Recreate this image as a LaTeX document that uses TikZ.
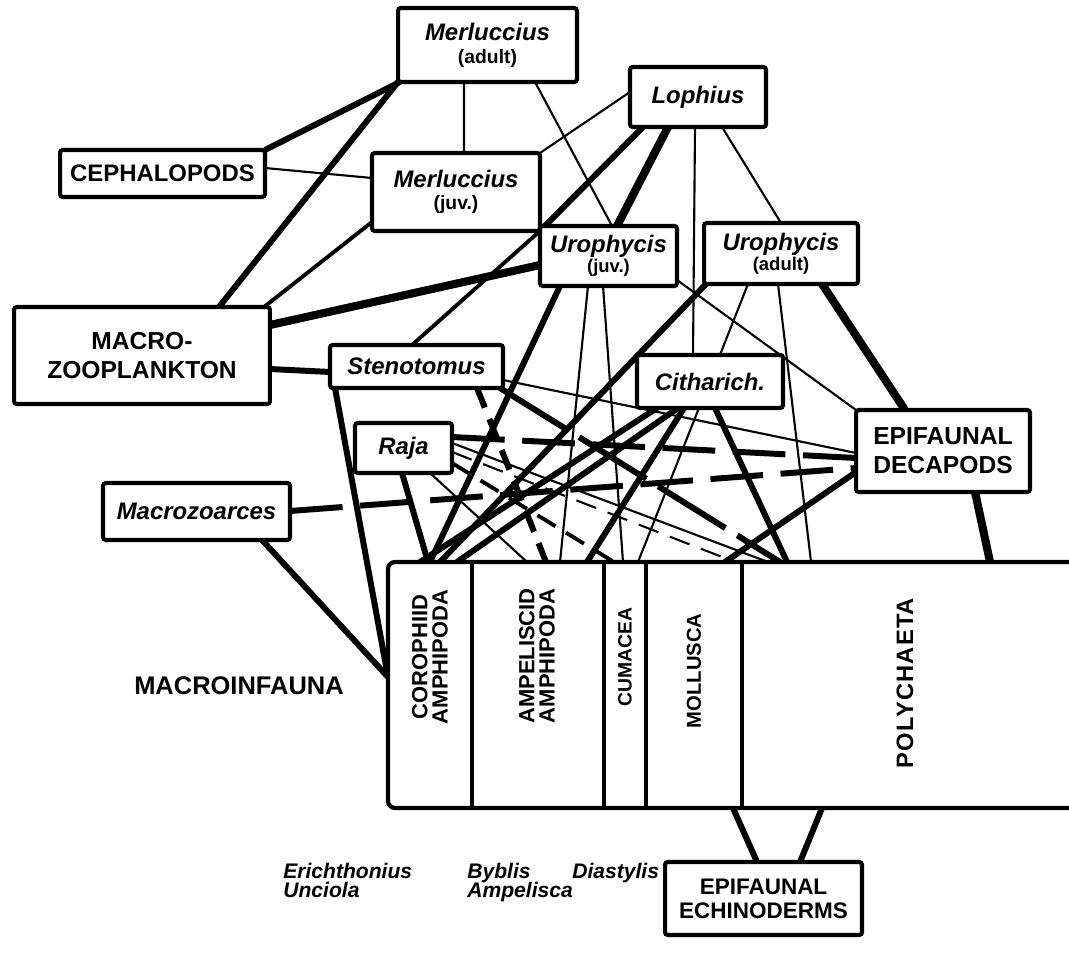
\documentclass[tikz,border=0pt]{standalone}
\usepackage{fontspec}
\setmainfont{Liberation Sans}
\usetikzlibrary{calc,backgrounds}
\begin{document}
\begin{tikzpicture}[x=0.02cm,y=-0.02cm,
  box/.style={draw, line width=2.3pt, fill=white, rounded corners=1.5pt, inner sep=1pt, outer sep=0pt, align=center,
              font=\fontsize{13.6}{15}\selectfont\bfseries},
  itbox/.style={box, font=\fontsize{13.6}{15}\selectfont\bfseries\itshape},
  col/.style={draw=none, fill=white, inner sep=0pt, outer sep=0pt, minimum height=4.92cm},
  collab/.style={rotate=90, align=center, inner sep=0pt, font=\fontsize{12.5}{11.5}\selectfont\bfseries},
  plainlab/.style={inner sep=0pt, font=\fontsize{14.5}{16}\selectfont\bfseries},
  genus/.style={inner sep=0pt, anchor=base west, font=\fontsize{12}{13}\selectfont\bfseries\itshape},
  wthin/.style={line width=1.2pt},
  wmid/.style={line width=2.2pt},
  wthk/.style={line width=3.4pt},
  wvthk/.style={line width=4.6pt},
  dsh/.style={dash pattern=on 30pt off 10pt},
  dshs/.style={dash pattern=on 12pt off 7pt},
  dshl/.style={dash pattern=on 45pt off 8pt}]
\useasboundingbox (0,0) rectangle (1069,962);

% ---- boxes ----
\node[itbox, minimum width=3.58cm, minimum height=1.48cm, font=\fontsize{13.6}{13}\selectfont\bfseries\itshape]
  (merA) at (487.5,45) {Merluccius\\{\upshape\fontsize{11}{13}\selectfont(adult)}};
\node[itbox, minimum width=2.72cm, minimum height=1.2cm] (loph) at (698,97) {Lophius};
\node[box, minimum width=4.10cm, minimum height=0.94cm] (ceph) at (162.5,173.5) {CEPHALOPODS};
\node[itbox, minimum width=3.36cm, minimum height=1.56cm, font=\fontsize{13.6}{12.5}\selectfont\bfseries\itshape]
  (merJ) at (456,192) {Merluccius\\{\upshape\fontsize{11}{12.5}\selectfont(juv.)}};
\node[itbox, minimum width=2.74cm, minimum height=1.2cm, font=\fontsize{13.6}{9}\selectfont\bfseries\itshape]
  (uroJ) at (608.5,256) {Urophycis\\{\upshape\fontsize{10.5}{9}\selectfont(juv.)}};
\node[itbox, minimum width=3.08cm, minimum height=1.22cm, font=\fontsize{13.6}{9}\selectfont\bfseries\itshape]
  (uroA) at (781,253.5) {Urophycis\\{\upshape\fontsize{10.5}{9}\selectfont(adult)}};
\node[box, minimum width=5.12cm, minimum height=1.94cm, font=\fontsize{14}{16.5}\selectfont\bfseries]
  (mzoo) at (142,355.5) {MACRO-\\ZOOPLANKTON};
\node[itbox, minimum width=3.46cm, minimum height=0.86cm] (sten) at (416.5,366.5) {Stenotomus};
\node[itbox, minimum width=2.92cm, minimum height=1.06cm] (cith) at (710,381.5) {Citharich.};
\node[itbox, minimum width=1.94cm, minimum height=1.0cm] (raja) at (403.5,448) {Raja};
\node[box, minimum width=3.48cm, minimum height=1.64cm, font=\fontsize{14}{16.5}\selectfont\bfseries]
  (deca) at (943,451) {EPIFAUNAL\\DECAPODS};
\node[itbox, minimum width=3.74cm, minimum height=1.14cm] (mzoa) at (196.5,511.5) {Macrozoarces};
\node[box, minimum width=3.94cm, minimum height=1.46cm, font=\fontsize{12.8}{13.8}\selectfont\bfseries]
  (echi) at (763.5,898.5) {EPIFAUNAL\\ECHINODERMS};

% ---- macroinfauna columns ----
\node[col, minimum width=1.68cm] (coro) at (430,685) {};
\node[col, minimum width=2.64cm] (ampe) at (538,685) {};
\node[col, minimum width=0.84cm] (cuma) at (625,685) {};
\node[col, minimum width=1.92cm] (moll) at (694,685) {};
\node[col, minimum width=6.76cm] (poly) at (911,685) {};
\draw[line width=2.4pt, rounded corners=4pt] (poly.north east) -- (coro.north west) -- (coro.south west) -- (poly.south east);
\draw[line width=2pt] (coro.north east) -- (coro.south east);
\draw[line width=2pt] (ampe.north east) -- (ampe.south east);
\draw[line width=2pt] (cuma.north east) -- (cuma.south east);
\draw[line width=2pt] (moll.north east) -- (moll.south east);

\node[collab] (corolab) at (430,657) {COROPHIID\\AMPHIPODA};
\node[collab] (ampelab) at (537,656) {AMPELISCID\\AMPHIPODA};
\node[collab, font=\fontsize{11}{11}\selectfont\bfseries] (cumalab) at (625,657) {CUMACEA};
\node[collab, font=\fontsize{11.5}{11}\selectfont\bfseries] (molllab) at (694,671) {MOLLUSCA};
\node[collab, font=\fontsize{13.5}{13}\selectfont\bfseries\addfontfeatures{LetterSpace=5}] (polylab) at (905,683) {POLYCHAETA};

\node[plainlab] (minf) at (239,686) {MACROINFAUNA};
\node[genus] (g1) at (283,878) {Erichthonius};
\node[genus] (g2) at (283,897) {Unciola};
\node[genus] (g3) at (467,878) {Byblis};
\node[genus] (g4) at (467,897) {Ampelisca};
\node[genus] (g5) at (572,878) {Diastylis};

% ---- connectors ----
\begin{scope}[on background layer]
\draw[wthk] ($(merA.north west)+(2,74)$) -- (ceph.north east);
\draw[wthk] (merA.south west) -- ($(mzoo.north west)+(205,0)$);
\draw[wthin] ($(merA.north west)+(66,74)$) -- ($(merJ.north west)+(92,0)$);
\draw[wthin] ($(merA.north west)+(137,74)$) -- ($(uroJ.north west)+(72,0)$);
\draw[wthin] ($(ceph.north east)+(0,18)$) -- ($(merJ.north west)+(0,25)$);
\draw[wmid] ($(merJ.north west)+(0,69)$) -- ($(mzoo.north west)+(250,0)$);
\draw[wthin] ($(loph.north west)+(0,25)$) -- (merJ.north east);
\draw[wthk] ($(loph.north west)+(13,60)$) -- (merJ.south east);
\draw[wvthk] ($(loph.north west)+(38,60)$) -- ($(uroJ.north west)+(77,0)$);
\draw[wthin] ($(loph.north west)+(65,60)$) -- ($(cith.north west)+(56,0)$);
\draw[wthin] ($(loph.north west)+(92,60)$) -- ($(uroA.north west)+(77,0)$);
\draw[wvthk] ($(mzoo.north east)+(0,18)$) -- ($(uroJ.north west)+(0,39)$);
\draw[wthk] ($(mzoo.north east)+(0,62)$) -- ($(sten.north west)+(0,27)$);
\draw[wmid] ($(sten.north west)+(82,0)$) -- (merJ.south east);
\draw[wthk] ($(uroJ.north west)+(20,60)$) -- ($(coro.north west)+(42,0)$);
\draw[wthin] ($(uroJ.north west)+(48,60)$) -- ($(ampe.north west)+(88,0)$);
\draw[wthin] ($(uroJ.north west)+(63,60)$) -- ($(cuma.north west)+(19,0)$);
\draw[wthin] ($(uroJ.north west)+(137,54)$) -- (deca.north west);
\draw[wthk] ($(uroA.north west)+(2,61)$) -- ($(coro.north west)+(52,0)$);
\draw[wthin] ($(uroA.north west)+(44,61)$) -- ($(cuma.north west)+(34,0)$);
\draw[wthin] ($(uroA.north west)+(74,61)$) -- ($(poly.north west)+(69,0)$);
\draw[wvthk] ($(uroA.north west)+(118,61)$) -- ($(deca.north west)+(49,0)$);
\draw[wthk] ($(cith.north west)+(20,53)$) -- ($(coro.north west)+(32,0)$);
\draw[wthk] ($(cith.north west)+(41,53)$) -- ($(coro.north west)+(69,0)$);
\draw[wthk] ($(cith.north west)+(47,53)$) -- ($(ampe.north west)+(115,0)$);
\draw[wthk] ($(cith.north west)+(78,53)$) -- ($(poly.north west)+(45,0)$);
\draw[wthk] ($(deca.north west)+(0,62)$) -- ($(moll.north west)+(79,0)$);
\draw[wvthk] ($(deca.north west)+(119,82)$) -- ($(poly.north west)+(248,0)$);
\draw[wthk,dsh] ($(raja.north west)+(97,14)$) -- ($(deca.north west)+(0,48)$);
\draw[wthk,dsh] ($(mzoa.north west)+(187,28)$) -- ($(deca.north west)+(0,58)$);
\draw[wthk] ($(raja.north west)+(47,50)$) -- ($(coro.north west)+(40,0)$);
\draw[wthk] ($(sten.north west)+(5,43)$) -- ($(coro.north west)+(0,115)$);
\draw[wthk] ($(mzoa.north west)+(159,57)$) -- ($(coro.north west)+(0,115)$);
\draw[wthin] ($(raja.north west)+(75,50)$) -- ($(ampe.north west)+(55,0)$);
\draw[wthk,dshs] ($(sten.north west)+(147,43)$) -- ($(ampe.north west)+(74,0)$);
\draw[wthk,dshl] ($(sten.north west)+(170,43)$) -- ($(poly.north west)+(38,0)$);
\draw[wthin] ($(sten.north west)+(173,35)$) -- ($(deca.north west)+(0,43)$);
\draw[wthin] ($(raja.north west)+(97,20)$) -- ($(poly.north west)+(26,0)$);
\draw[wthin,dshs] ($(raja.north west)+(97,29)$) -- ($(moll.north west)+(89,0)$);
\draw[wmid,dshs] ($(raja.north west)+(97,40)$) -- ($(cuma.north west)+(10,0)$);
\draw[wthk] ($(moll.north west)+(87,246)$) -- ($(echi.north west)+(92,0)$);
\draw[wthk] ($(poly.north west)+(80,246)$) -- ($(echi.north west)+(135,0)$);
\end{scope}
\end{tikzpicture}
\end{document}
